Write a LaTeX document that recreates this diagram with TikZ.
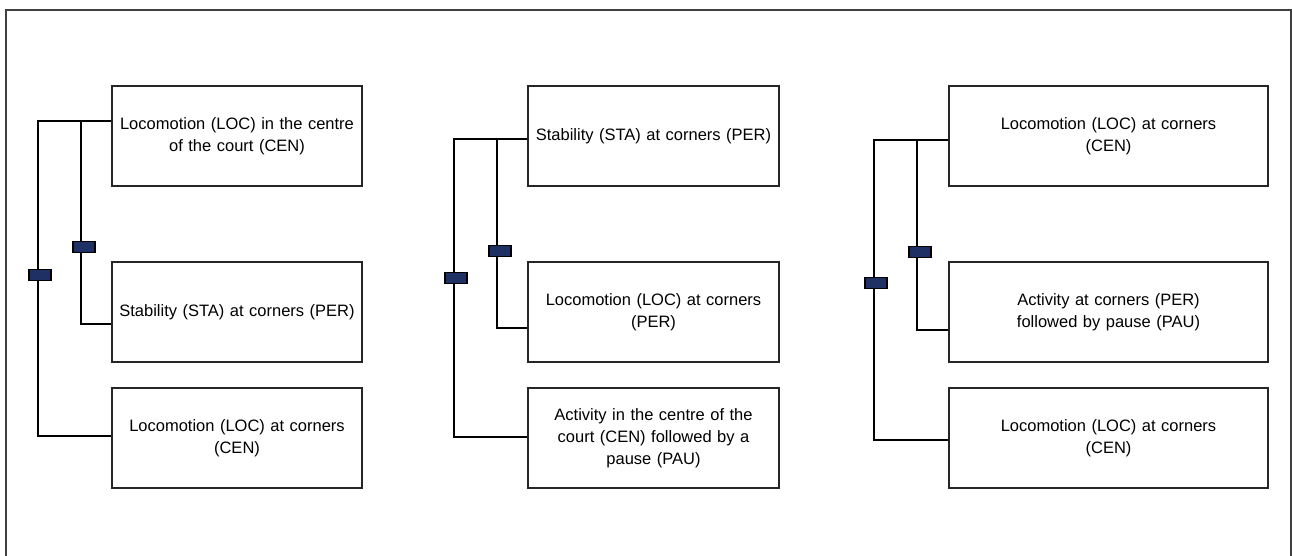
\documentclass[tikz,border=0pt]{standalone}
\usepackage{fontspec}
\setmainfont{Liberation Sans}
\definecolor{navy}{RGB}{31,48,100}
\begin{document}
\begin{tikzpicture}[x=1pt,y=-1pt,
  box/.style={draw=black!85,line width=1.2pt,fill=white,align=center,inner sep=0pt,
    minimum height=100pt,font=\fontsize{16.5}{22}\selectfont},
  conn/.style={draw=black,line width=2.6pt},
  tick/.style={draw=black,line width=1.6pt,fill=navy,minimum width=22pt,minimum height=11pt,inner sep=0pt}]
\useasboundingbox (0,0) rectangle (1292,556);
\draw[black!75,line width=1.5pt] (6,558) -- (6,10) -- (1291,10) -- (1291,558);
% column 1
\node[box,minimum width=250pt,text width=236pt] (a1) at (237,136) {Locomotion (LOC) in the centre\\of the court (CEN)};
\node[box,minimum width=250pt,text width=236pt] (a2) at (237,312) {Stability (STA) at corners (PER)};
\node[box,minimum width=250pt,text width=236pt] (a3) at (237,438) {Locomotion (LOC) at corners\\(CEN)};
\coordinate (a0) at (38,121);
\coordinate (ai) at (81,121);
\draw[conn] (a1.west |- a0) -- (a0) -- (a0 |- 0,436) -- (a3.west |- 0,436);
\draw[conn] (ai) -- (ai |- 0,324) -- (a2.west |- 0,324);
\node[tick] (at1) at (40,275) {};
\node[tick] (at2) at (84,247) {};
% column 2
\node[box,minimum width=251pt,text width=237pt] (b1) at (653.5,136) {Stability (STA) at corners (PER)};
\node[box,minimum width=251pt,text width=237pt] (b2) at (653.5,312) {Locomotion (LOC) at corners\\(PER)};
\node[box,minimum width=251pt,text width=237pt] (b3) at (653.5,438) {Activity in the centre of the\\court (CEN) followed by a\\pause (PAU)};
\coordinate (b0) at (454,139);
\coordinate (bi) at (497,139);
\draw[conn] (b1.west |- b0) -- (b0) -- (b0 |- 0,437) -- (b3.west |- 0,437);
\draw[conn] (bi) -- (bi |- 0,328) -- (b2.west |- 0,328);
\node[tick] (bt1) at (456,278) {};
\node[tick] (bt2) at (500,251) {};
% column 3
\node[box,minimum width=319pt,text width=305pt] (c1) at (1108.5,136) {Locomotion (LOC) at corners\\(CEN)};
\node[box,minimum width=319pt,text width=305pt] (c2) at (1108.5,312) {Activity at corners (PER)\\followed by pause (PAU)};
\node[box,minimum width=319pt,text width=305pt] (c3) at (1108.5,438) {Locomotion (LOC) at corners\\(CEN)};
\coordinate (c0) at (874,140);
\coordinate (ci) at (917,140);
\draw[conn] (c1.west |- c0) -- (c0) -- (c0 |- 0,440) -- (c3.west |- 0,440);
\draw[conn] (ci) -- (ci |- 0,330) -- (c2.west |- 0,330);
\node[tick] (ct1) at (876,283) {};
\node[tick] (ct2) at (920,252) {};
\end{tikzpicture}
\end{document}
